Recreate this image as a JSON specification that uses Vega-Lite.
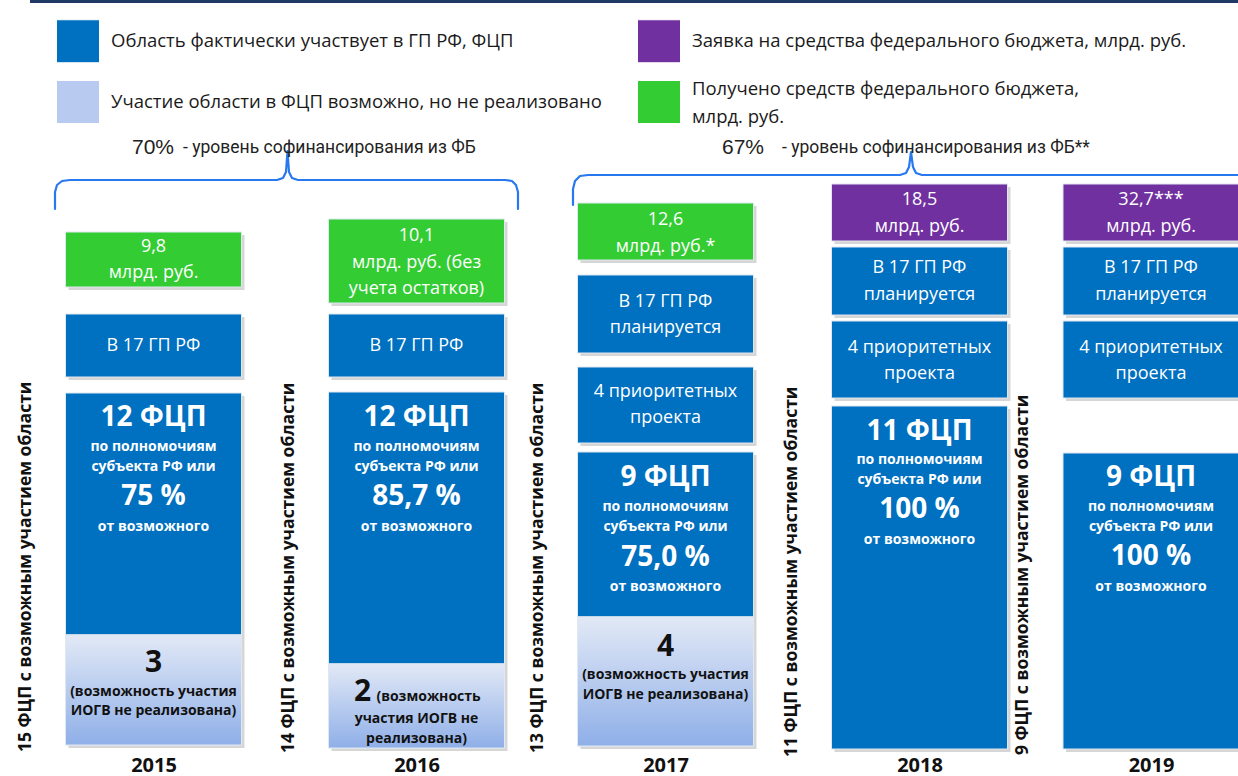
{
  "$schema": "https://vega.github.io/schema/vega-lite/v6.json",
  "width": 1238,
  "height": 752,
  "autosize": {"type": "none"},
  "padding": {"left": 0, "top": 0, "right": 0, "bottom": 24},
  "background": "#ffffff",
  "config": {"view": {"stroke": null}, "text": {"font": "Open Sans"}},
  "datasets": {
    "boxes": [
      {"year": 2015, "kind": "Получено средств федерального бюджета, млрд. руб.", "y": 232, "y2": 287},
      {"year": 2015, "kind": "Область фактически участвует в ГП РФ, ФЦП", "y": 314, "y2": 377},
      {"year": 2015, "kind": "Область фактически участвует в ГП РФ, ФЦП", "y": 393, "y2": 635},
      {"year": 2015, "kind": "Участие области в ФЦП возможно, но не реализовано", "y": 635, "y2": 745},
      {"year": 2016, "kind": "Получено средств федерального бюджета, млрд. руб.", "y": 219, "y2": 303},
      {"year": 2016, "kind": "Область фактически участвует в ГП РФ, ФЦП", "y": 314, "y2": 377},
      {"year": 2016, "kind": "Область фактически участвует в ГП РФ, ФЦП", "y": 392, "y2": 664},
      {"year": 2016, "kind": "Участие области в ФЦП возможно, но не реализовано", "y": 664, "y2": 748},
      {"year": 2017, "kind": "Получено средств федерального бюджета, млрд. руб.", "y": 203, "y2": 260},
      {"year": 2017, "kind": "Область фактически участвует в ГП РФ, ФЦП", "y": 275, "y2": 353},
      {"year": 2017, "kind": "Область фактически участвует в ГП РФ, ФЦП", "y": 367, "y2": 443},
      {"year": 2017, "kind": "Область фактически участвует в ГП РФ, ФЦП", "y": 452, "y2": 617},
      {"year": 2017, "kind": "Участие области в ФЦП возможно, но не реализовано", "y": 617, "y2": 746},
      {"year": 2018, "kind": "Заявка на средства федерального бюджета, млрд. руб.", "y": 184, "y2": 241},
      {"year": 2018, "kind": "Область фактически участвует в ГП РФ, ФЦП", "y": 247, "y2": 315},
      {"year": 2018, "kind": "Область фактически участвует в ГП РФ, ФЦП", "y": 321, "y2": 398},
      {"year": 2018, "kind": "Область фактически участвует в ГП РФ, ФЦП", "y": 406, "y2": 749},
      {"year": 2019, "kind": "Заявка на средства федерального бюджета, млрд. руб.", "y": 184, "y2": 241},
      {"year": 2019, "kind": "Область фактически участвует в ГП РФ, ФЦП", "y": 247, "y2": 315},
      {"year": 2019, "kind": "Область фактически участвует в ГП РФ, ФЦП", "y": 321, "y2": 398},
      {"year": 2019, "kind": "Область фактически участвует в ГП РФ, ФЦП", "y": 453, "y2": 749}
    ],
    "labels": [
      {"year": 2015, "y": 247, "text": "9,8", "role": "box"},
      {"year": 2015, "y": 273, "text": "млрд. руб.", "role": "box"},
      {"year": 2015, "y": 346, "text": "В 17 ГП РФ", "role": "box"},
      {"year": 2015, "y": 418, "text": "12 ФЦП", "role": "big"},
      {"year": 2015, "y": 447, "text": "по полномочиям", "role": "small"},
      {"year": 2015, "y": 467, "text": "субъекта РФ или", "role": "small"},
      {"year": 2015, "y": 497, "text": "75 %", "role": "big"},
      {"year": 2015, "y": 527, "text": "от возможного", "role": "small"},
      {"year": 2015, "y": 663, "text": "3", "role": "bigdark"},
      {"year": 2015, "y": 692, "text": "(возможность участия", "role": "smalldark"},
      {"year": 2015, "y": 711, "text": "ИОГВ не реализована)", "role": "smalldark"},
      {"year": 2015, "y": 752, "text": "15 ФЦП с возможным участием области", "role": "side"},
      {"year": 2016, "y": 236, "text": "10,1", "role": "box"},
      {"year": 2016, "y": 263, "text": "млрд. руб. (без", "role": "box"},
      {"year": 2016, "y": 289, "text": "учета остатков)", "role": "box"},
      {"year": 2016, "y": 346, "text": "В 17 ГП РФ", "role": "box"},
      {"year": 2016, "y": 418, "text": "12 ФЦП", "role": "big"},
      {"year": 2016, "y": 447, "text": "по полномочиям", "role": "small"},
      {"year": 2016, "y": 467, "text": "субъекта РФ или", "role": "small"},
      {"year": 2016, "y": 497, "text": "85,7 %", "role": "big"},
      {"year": 2016, "y": 527, "text": "от возможного", "role": "small"},
      {"year": 2016, "y": 692, "text": "2", "role": "bigdarkleft"},
      {"year": 2016, "y": 697, "text": "(возможность", "role": "smalldarkright"},
      {"year": 2016, "y": 719, "text": "участия ИОГВ не", "role": "smalldark"},
      {"year": 2016, "y": 739, "text": "реализована)", "role": "smalldark"},
      {"year": 2016, "y": 753, "text": "14 ФЦП с возможным участием области", "role": "side"},
      {"year": 2017, "y": 220, "text": "12,6", "role": "box"},
      {"year": 2017, "y": 247, "text": "млрд. руб.*", "role": "box"},
      {"year": 2017, "y": 302, "text": "В 17 ГП РФ", "role": "box"},
      {"year": 2017, "y": 328, "text": "планируется", "role": "box"},
      {"year": 2017, "y": 392, "text": "4 приоритетных", "role": "box"},
      {"year": 2017, "y": 418, "text": "проекта", "role": "box"},
      {"year": 2017, "y": 478, "text": "9 ФЦП", "role": "big"},
      {"year": 2017, "y": 507, "text": "по полномочиям", "role": "small"},
      {"year": 2017, "y": 527, "text": "субъекта РФ или", "role": "small"},
      {"year": 2017, "y": 558, "text": "75,0 %", "role": "big"},
      {"year": 2017, "y": 587, "text": "от возможного", "role": "small"},
      {"year": 2017, "y": 647, "text": "4", "role": "bigdark"},
      {"year": 2017, "y": 675, "text": "(возможность участия", "role": "smalldark"},
      {"year": 2017, "y": 695, "text": "ИОГВ не реализована)", "role": "smalldark"},
      {"year": 2017, "y": 753, "text": "13 ФЦП с возможным участием области", "role": "side"},
      {"year": 2018, "y": 200, "text": "18,5", "role": "box"},
      {"year": 2018, "y": 227, "text": "млрд. руб.", "role": "box"},
      {"year": 2018, "y": 268, "text": "В 17 ГП РФ", "role": "box"},
      {"year": 2018, "y": 295, "text": "планируется", "role": "box"},
      {"year": 2018, "y": 348, "text": "4 приоритетных", "role": "box"},
      {"year": 2018, "y": 374, "text": "проекта", "role": "box"},
      {"year": 2018, "y": 432, "text": "11 ФЦП", "role": "big"},
      {"year": 2018, "y": 460, "text": "по полномочиям", "role": "small"},
      {"year": 2018, "y": 480, "text": "субъекта РФ или", "role": "small"},
      {"year": 2018, "y": 510, "text": "100 %", "role": "big"},
      {"year": 2018, "y": 540, "text": "от возможного", "role": "small"},
      {"year": 2018, "y": 757, "text": "11 ФЦП с возможным участием области", "role": "side"},
      {"year": 2019, "y": 200, "text": "32,7***", "role": "box"},
      {"year": 2019, "y": 227, "text": "млрд. руб.", "role": "box"},
      {"year": 2019, "y": 268, "text": "В 17 ГП РФ", "role": "box"},
      {"year": 2019, "y": 295, "text": "планируется", "role": "box"},
      {"year": 2019, "y": 348, "text": "4 приоритетных", "role": "box"},
      {"year": 2019, "y": 374, "text": "проекта", "role": "box"},
      {"year": 2019, "y": 478, "text": "9 ФЦП", "role": "big"},
      {"year": 2019, "y": 507, "text": "по полномочиям", "role": "small"},
      {"year": 2019, "y": 527, "text": "субъекта РФ или", "role": "small"},
      {"year": 2019, "y": 557, "text": "100 %", "role": "big"},
      {"year": 2019, "y": 587, "text": "от возможного", "role": "small"},
      {"year": 2019, "y": 755, "text": "9 ФЦП с возможным участием области", "role": "side"},
      {"year": 2015.0779, "y": 148, "text": "70%", "role": "capnum"},
      {"year": 2015.1122, "y": 148, "text": "- уровень софинансирования из ФБ", "role": "captext"},
      {"year": 2017.3878, "y": 148, "text": "67%", "role": "capnum"},
      {"year": 2017.4587, "y": 148, "text": "- уровень софинансирования из ФБ**", "role": "captext"}
    ],
    "lines": [
      {"line": "frame", "seq": 0, "year": 2014.5304, "y": 1.5},
      {"line": "frame", "seq": 1, "year": 2019.5, "y": 1.5},
      {"line": "brace1", "seq": 0, "year": 2014.6255, "y": 209},
      {"line": "brace1", "seq": 1, "year": 2014.6255, "y": 192},
      {"line": "brace1", "seq": 2, "year": 2014.6331, "y": 185},
      {"line": "brace1", "seq": 3, "year": 2014.6521, "y": 181},
      {"line": "brace1", "seq": 4, "year": 2014.6825, "y": 180},
      {"line": "brace1", "seq": 5, "year": 2015.4696, "y": 180},
      {"line": "brace1", "seq": 6, "year": 2015.4924, "y": 178},
      {"line": "brace1", "seq": 7, "year": 2015.5038, "y": 172},
      {"line": "brace1", "seq": 8, "year": 2015.5095, "y": 151},
      {"line": "brace1", "seq": 9, "year": 2015.5152, "y": 172},
      {"line": "brace1", "seq": 10, "year": 2015.5266, "y": 178},
      {"line": "brace1", "seq": 11, "year": 2015.5494, "y": 180},
      {"line": "brace1", "seq": 12, "year": 2016.3554, "y": 180},
      {"line": "brace1", "seq": 13, "year": 2016.3835, "y": 181},
      {"line": "brace1", "seq": 14, "year": 2016.3996, "y": 185},
      {"line": "brace1", "seq": 15, "year": 2016.4076, "y": 192},
      {"line": "brace1", "seq": 16, "year": 2016.4076, "y": 209},
      {"line": "brace2", "seq": 0, "year": 2016.6285, "y": 205},
      {"line": "brace2", "seq": 1, "year": 2016.6285, "y": 189},
      {"line": "brace2", "seq": 2, "year": 2016.6365, "y": 181},
      {"line": "brace2", "seq": 3, "year": 2016.6566, "y": 176},
      {"line": "brace2", "seq": 4, "year": 2016.6888, "y": 175},
      {"line": "brace2", "seq": 5, "year": 2017.9232, "y": 175},
      {"line": "brace2", "seq": 6, "year": 2017.9469, "y": 173},
      {"line": "brace2", "seq": 7, "year": 2017.9587, "y": 167},
      {"line": "brace2", "seq": 8, "year": 2017.9665, "y": 152},
      {"line": "brace2", "seq": 9, "year": 2017.9744, "y": 167},
      {"line": "brace2", "seq": 10, "year": 2017.9862, "y": 173},
      {"line": "brace2", "seq": 11, "year": 2018.0108, "y": 175},
      {"line": "brace2", "seq": 12, "year": 2019.4277, "y": 175}
    ]
  },
  "encoding": {
    "x": {
      "field": "year",
      "type": "quantitative",
      "scale": {"domain": [2015, 2016, 2017, 2018, 2019], "range": [153.5, 416.5, 665.5, 919.5, 1151], "nice": false, "zero": false},
      "axis": {"values": [2015, 2016, 2017, 2018, 2019], "format": "d", "title": null, "grid": false, "ticks": false, "tickSize": 0, "domain": false, "labelFont": "Open Sans", "labelFontWeight": "bold", "labelFontSize": 20, "labelColor": "#111111", "labelPadding": 3, "labelFlush": false, "labelOverlap": false}
    },
    "y": {
      "field": "y",
      "type": "quantitative",
      "scale": {"domain": [0, 752], "reverse": true, "nice": false, "zero": false},
      "axis": null
    }
  },
  "layer": [
    {
      "data": {"name": "lines"},
      "transform": [{"filter": "datum.line == 'frame'"}],
      "mark": {"type": "line", "color": "#1f3864", "strokeWidth": 3},
      "encoding": {"detail": {"field": "line"}, "order": {"field": "seq"}}
    },
    {
      "data": {"name": "lines"},
      "transform": [{"filter": "datum.line != 'frame'"}],
      "mark": {"type": "line", "color": "#2878f0", "strokeWidth": 2.2, "strokeJoin": "round", "strokeCap": "round"},
      "encoding": {"detail": {"field": "line"}, "order": {"field": "seq"}}
    },
    {
      "data": {"name": "boxes"},
      "mark": {"type": "rect", "fill": "#000000", "opacity": 0.16, "xOffset": -85, "x2Offset": 91, "yOffset": 3, "y2Offset": 3},
      "encoding": {"x2": {"field": "year"}, "y2": {"field": "y2"}}
    },
    {
      "data": {"name": "boxes"},
      "mark": {"type": "rect", "xOffset": -88, "x2Offset": 88, "stroke": "#dfe7f1", "strokeWidth": 1},
      "encoding": {
        "x2": {"field": "year"},
        "y2": {"field": "y2"},
        "color": {
          "field": "kind",
          "type": "nominal",
          "scale": {
            "domain": ["Область фактически участвует в ГП РФ, ФЦП", "Участие области в ФЦП возможно, но не реализовано", "Заявка на средства федерального бюджета, млрд. руб.", "Получено средств федерального бюджета, млрд. руб."],
            "range": ["#0070c0", "#b8caf0", "#7030a0", "#33cc33"]
          },
          "legend": {
            "title": null,
            "orient": "none",
            "legendX": 56,
            "legendY": 19,
            "padding": 0,
            "columns": 2,
            "columnPadding": 33,
            "rowPadding": 13,
            "symbolType": "square",
            "symbolSize": 1849,
            "symbolStrokeColor": "#ffffff",
            "symbolStrokeWidth": 1,
            "symbolOpacity": 1,
            "labelFont": "Open Sans",
            "labelFontSize": 18.5,
            "labelColor": "#1a1a1a",
            "labelOffset": 11,
            "labelLimit": 700,
            "labelExpr": "datum.label == 'Получено средств федерального бюджета, млрд. руб.' ? ['Получено средств федерального бюджета,', 'млрд. руб.'] : datum.label",
            "encode": {"labels": {"update": {"lineHeight": {"value": 28}, "dy": {"signal": "datum.label == 'Получено средств федерального бюджета, млрд. руб.' ? -13 : 0"}}}}
          }
        }
      }
    },
    {
      "data": {"name": "boxes"},
      "transform": [{"filter": "datum.kind == 'Участие области в ФЦП возможно, но не реализовано'"}],
      "mark": {"type": "rect", "xOffset": -88, "x2Offset": 88, "stroke": "#dfe7f1", "strokeWidth": 1, "fill": {"gradient": "linear", "x1": 1, "y1": 0, "x2": 1, "y2": 1, "stops": [{"offset": 0, "color": "#e2e9f6"}, {"offset": 1, "color": "#8fafe8"}]}},
      "encoding": {"x2": {"field": "year"}, "y2": {"field": "y2"}}
    },
    {
      "data": {"name": "labels"},
      "transform": [{"filter": "datum.role == 'box'"}],
      "mark": {"type": "text", "font": "Open Sans", "fontSize": 18, "color": "#ffffff", "align": "center", "baseline": "middle"},
      "encoding": {"text": {"field": "text"}}
    },
    {
      "data": {"name": "labels"},
      "transform": [{"filter": "datum.role == 'big'"}],
      "mark": {"type": "text", "font": "Open Sans", "fontSize": 28, "fontWeight": "bold", "color": "#ffffff", "align": "center", "baseline": "middle"},
      "encoding": {"text": {"field": "text"}}
    },
    {
      "data": {"name": "labels"},
      "transform": [{"filter": "datum.role == 'small'"}],
      "mark": {"type": "text", "font": "Open Sans", "fontSize": 14, "fontWeight": "bold", "color": "#ffffff", "align": "center", "baseline": "middle"},
      "encoding": {"text": {"field": "text"}}
    },
    {
      "data": {"name": "labels"},
      "transform": [{"filter": "datum.role == 'bigdark'"}],
      "mark": {"type": "text", "font": "Open Sans", "fontSize": 30, "fontWeight": "bold", "color": "#111111", "align": "center", "baseline": "middle"},
      "encoding": {"text": {"field": "text"}}
    },
    {
      "data": {"name": "labels"},
      "transform": [{"filter": "datum.role == 'bigdarkleft'"}],
      "mark": {"type": "text", "font": "Open Sans", "fontSize": 30, "fontWeight": "bold", "color": "#111111", "align": "center", "baseline": "middle", "xOffset": -54},
      "encoding": {"text": {"field": "text"}}
    },
    {
      "data": {"name": "labels"},
      "transform": [{"filter": "datum.role == 'smalldark'"}],
      "mark": {"type": "text", "font": "Open Sans", "fontSize": 14, "fontWeight": "bold", "color": "#111111", "align": "center", "baseline": "middle"},
      "encoding": {"text": {"field": "text"}}
    },
    {
      "data": {"name": "labels"},
      "transform": [{"filter": "datum.role == 'smalldarkright'"}],
      "mark": {"type": "text", "font": "Open Sans", "fontSize": 14, "fontWeight": "bold", "color": "#111111", "align": "center", "baseline": "middle", "xOffset": 12},
      "encoding": {"text": {"field": "text"}}
    },
    {
      "data": {"name": "labels"},
      "transform": [{"filter": "datum.role == 'side'"}],
      "mark": {"type": "text", "font": "Open Sans", "fontSize": 17.5, "fontWeight": "bold", "color": "#111111", "align": "left", "baseline": "middle", "angle": 270, "xOffset": -128},
      "encoding": {"text": {"field": "text"}}
    },
    {
      "data": {"name": "labels"},
      "transform": [{"filter": "datum.role == 'capnum'"}],
      "mark": {"type": "text", "font": "Liberation Sans", "fontSize": 21, "color": "#222222", "align": "right", "baseline": "middle"},
      "encoding": {"text": {"field": "text"}}
    },
    {
      "data": {"name": "labels"},
      "transform": [{"filter": "datum.role == 'captext'"}],
      "mark": {"type": "text", "font": "Liberation Sans Narrow, Roboto, sans-serif", "fontSize": 17.5, "color": "#222222", "align": "left", "baseline": "middle"},
      "encoding": {"text": {"field": "text"}}
    }
  ]
}
